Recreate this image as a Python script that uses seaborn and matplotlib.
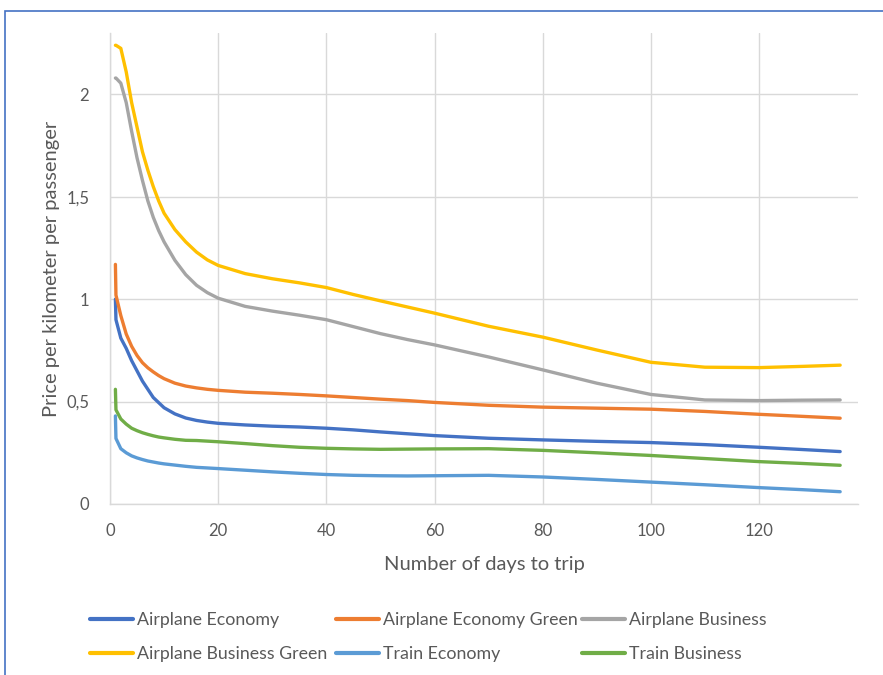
import matplotlib
matplotlib.use("Agg")
import matplotlib.pyplot as plt
import seaborn as sns
import pandas as pd
from matplotlib.patches import Rectangle
from matplotlib.lines import Line2D

# ---- data ----
days = [1, 1.1, 2, 3, 4, 5, 6, 7, 8, 9, 10, 12, 14, 16, 18, 20, 25, 30, 35, 40,
        45, 50, 55, 60, 70, 80, 90, 100, 110, 120, 128, 135]

airplane_economy = [1.00, 0.90, 0.81, 0.76, 0.70, 0.65, 0.60, 0.56, 0.52, 0.495, 0.47,
                    0.44, 0.42, 0.408, 0.40, 0.394, 0.386, 0.38, 0.376, 0.37, 0.362,
                    0.352, 0.343, 0.334, 0.321, 0.313, 0.306, 0.30, 0.29, 0.277, 0.266, 0.256]
airplane_economy_green = [1.17, 1.02, 0.92, 0.83, 0.77, 0.725, 0.69, 0.665, 0.645, 0.627,
                          0.612, 0.59, 0.576, 0.567, 0.56, 0.555, 0.546, 0.541, 0.535, 0.528,
                          0.52, 0.512, 0.505, 0.496, 0.482, 0.473, 0.468, 0.463, 0.452, 0.438,
                          0.428, 0.419]
airplane_business = [2.08, 2.08, 2.055, 1.96, 1.82, 1.69, 1.58, 1.48, 1.40, 1.335, 1.28,
                     1.19, 1.12, 1.068, 1.032, 1.005, 0.965, 0.942, 0.922, 0.90, 0.866, 0.832,
                     0.803, 0.777, 0.718, 0.655, 0.59, 0.535, 0.508, 0.505, 0.507, 0.508]
airplane_business_green = [2.24, 2.24, 2.225, 2.11, 1.96, 1.84, 1.72, 1.63, 1.55, 1.48,
                           1.42, 1.34, 1.28, 1.23, 1.192, 1.165, 1.125, 1.10, 1.08, 1.057,
                           1.023, 0.992, 0.962, 0.932, 0.868, 0.815, 0.752, 0.692, 0.668, 0.666,
                           0.672, 0.678]
train_economy = [0.43, 0.32, 0.27, 0.25, 0.235, 0.225, 0.217, 0.21, 0.205, 0.20, 0.196,
                 0.19, 0.184, 0.179, 0.176, 0.173, 0.165, 0.157, 0.15, 0.144, 0.14,
                 0.138, 0.137, 0.138, 0.14, 0.132, 0.12, 0.107, 0.094, 0.08, 0.07, 0.06]
train_business = [0.56, 0.46, 0.415, 0.39, 0.37, 0.358, 0.348, 0.34, 0.333, 0.327, 0.323,
                  0.316, 0.311, 0.31, 0.307, 0.304, 0.295, 0.285, 0.277, 0.272, 0.269,
                  0.267, 0.268, 0.269, 0.27, 0.262, 0.25, 0.237, 0.222, 0.207, 0.198, 0.189]

series_names = ["Airplane Economy", "Airplane Economy Green", "Airplane Business",
                "Airplane Business Green", "Train Economy", "Train Business"]
series_values = [airplane_economy, airplane_economy_green, airplane_business,
                 airplane_business_green, train_economy, train_business]
colors = ["#4472C4", "#ED7D31", "#A5A5A5", "#FFC000", "#5B9BD5", "#70AD47"]

x_ticks = [0, 20, 40, 60, 80, 100, 120]
y_ticks = [0, 0.5, 1, 1.5, 2]
y_tick_labels = ["0", "0,5", "1", "1,5", "2"]

# ---- build table ----
rows = []
for name, vals in zip(series_names, series_values):
    for d, v in zip(days, vals):
        rows.append({"days": d, "price": v, "series": name})
df = pd.DataFrame(rows)

sns.set_theme(style="white")
plt.rcParams["font.family"] = ["Lato", "DejaVu Sans"]

fig = plt.figure(figsize=(8.83, 6.75), dpi=100)
ax = fig.add_axes([110 / 883, 1 - 504 / 675, 748 / 883, 471 / 675])

palette = dict(zip(series_names, colors))
sns.lineplot(data=df, x="days", y="price", hue="series", palette=palette,
             hue_order=series_names, estimator=None, sort=False,
             linewidth=2.4, ax=ax, legend=False, zorder=3)
for ln in ax.get_lines():
    ln.set_solid_joinstyle("round")
    ln.set_solid_capstyle("round")

ax.set_xlim(0, 138.3)
ax.set_ylim(0, 2.30)
ax.set_xticks(x_ticks)
ax.set_xticklabels([str(t) for t in x_ticks])
ax.set_yticks(y_ticks)
ax.set_yticklabels(y_tick_labels)

grid_c = "#D9D9D9"
ax.grid(True, color=grid_c, linewidth=1.0, zorder=0)
for s in ["top", "right"]:
    ax.spines[s].set_visible(False)
ax.spines["left"].set_color(grid_c)
ax.spines["bottom"].set_color(grid_c)
ax.spines["left"].set_linewidth(1.0)
ax.spines["bottom"].set_linewidth(1.0)

txt_c = "#595959"
ax.tick_params(axis="both", length=0, labelsize=12, colors=txt_c)
ax.tick_params(axis="x", pad=14)
ax.tick_params(axis="y", pad=15)

ax.set_xlabel("Number of days to trip", fontsize=14.5, color=txt_c)
ax.set_ylabel("Price per kilometer per passenger", fontsize=14.5, color=txt_c)
ax.xaxis.set_label_coords(0.5, -0.11)
ax.yaxis.set_label_coords(-0.067, 0.5)

# legend laid out like the reference: 3 columns x 2 rows (row-wise order)
col_x = [90, 336, 582]
row_y = 612
for ci in range(3):
    idx = [ci, ci + 3]
    handles = [Line2D([0], [0], color=colors[i], lw=3) for i in idx]
    labels = [series_names[i] for i in idx]
    fig.legend(handles, labels, loc="upper left",
               bbox_to_anchor=(col_x[ci] / 883, 1 - row_y / 675),
               frameon=False, fontsize=12.8, labelcolor=txt_c,
               handlelength=2.4, handletextpad=0.22, labelspacing=1.0,
               borderaxespad=0, borderpad=0)

# outer frame (blue border)
fig.patches.append(Rectangle((5 / 883, -0.05), 2, 1 - 11 / 675 + 0.05,
                             transform=fig.transFigure, fill=False,
                             edgecolor="#4472C4", linewidth=1.2))

fig.savefig("out.png", dpi=100)
